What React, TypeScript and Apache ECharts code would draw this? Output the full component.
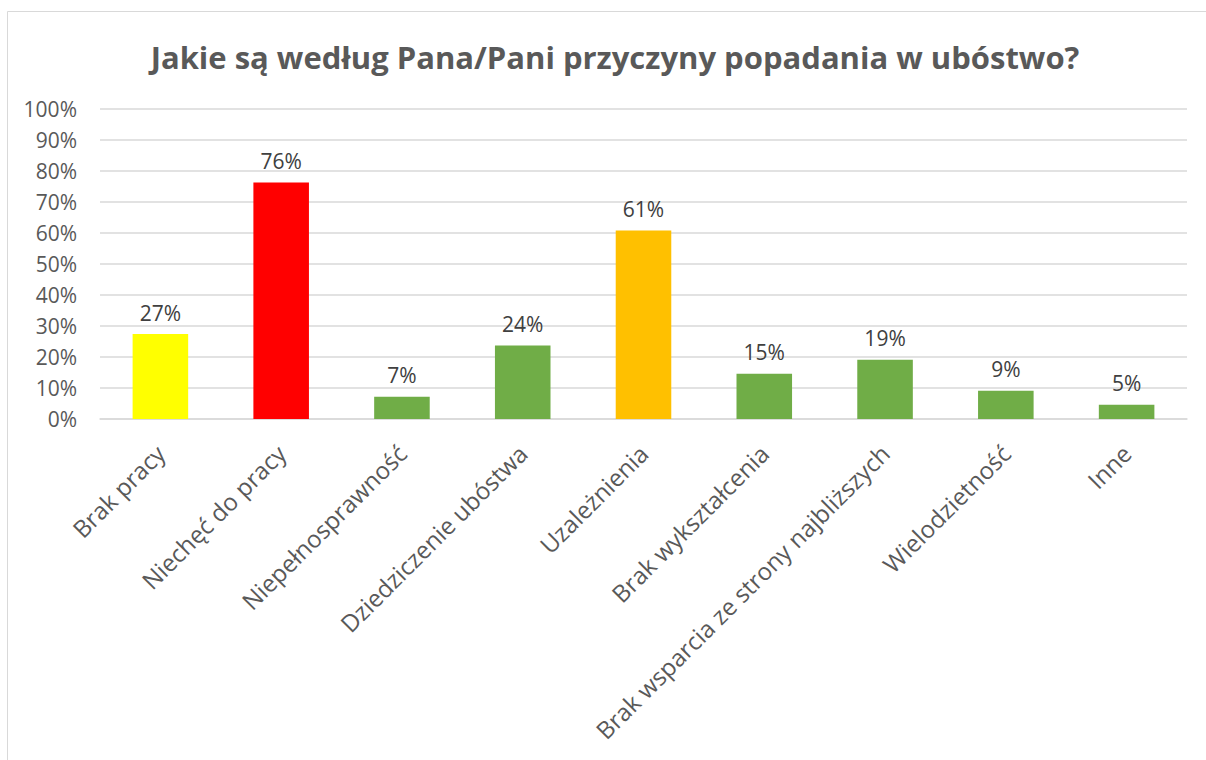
import React, { useEffect, useRef } from "react";
import * as echarts from "echarts";

const title = "Jakie są według Pana/Pani przyczyny popadania w ubóstwo?";
const categories = [
  "Brak pracy",
  "Niechęć do pracy",
  "Niepełnosprawność",
  "Dziedziczenie ubóstwa",
  "Uzależnienia",
  "Brak wykształcenia",
  "Brak wsparcia ze strony najbliższych",
  "Wielodzietność",
  "Inne",
];
const values = [27.4, 76.3, 7.2, 23.7, 60.8, 14.6, 19.1, 9.1, 4.6];
const barColors = ["#FFFF00", "#FF0000", "#70AD47", "#70AD47", "#FFC000", "#70AD47", "#70AD47", "#70AD47", "#70AD47"];
const yTicks = { min: 0, max: 100, interval: 10 };

const FONT = "'Open Sans', 'Noto Sans', sans-serif";

export default function App() {
  const ref = useRef<HTMLDivElement>(null);
  useEffect(() => {
    if (!ref.current) return;
    const chart = echarts.init(ref.current, undefined, { renderer: "svg" });
    chart.setOption({
      animation: false,
      backgroundColor: "#ffffff",
      title: {
        text: title,
        left: 610,
        textAlign: "center",
        top: 36,
        textStyle: { fontFamily: FONT, fontSize: 31, fontWeight: "bold", color: "#595959" },
      },
      graphic: [
        {
          type: "rect",
          shape: { x: 7.5, y: 11.5, width: 1400, height: 1000 },
          style: { fill: "none", stroke: "#d9d9d9", lineWidth: 1 },
          silent: true,
        },
      ],
      grid: { left: 100, right: 19, top: 109, bottom: 341, containLabel: false },
      xAxis: {
        type: "category",
        data: categories,
        axisLine: { show: true, lineStyle: { color: "#d9d9d9", width: 1.5 } },
        axisTick: { show: false },
        axisLabel: {
          rotate: 45,
          interval: 0,
          margin: 30,
          fontFamily: FONT,
          fontSize: 24,
          color: "#595959",
        },
      },
      yAxis: {
        type: "value",
        min: yTicks.min,
        max: yTicks.max,
        interval: yTicks.interval,
        axisLine: { show: false },
        axisTick: { show: false },
        splitLine: { lineStyle: { color: "#d9d9d9", width: 1.5 } },
        axisLabel: {
          formatter: (v: number) => `${v}%`,
          margin: 23,
          fontFamily: FONT,
          fontSize: 21,
          color: "#595959",
        },
      },
      series: [
        {
          type: "bar",
          barWidth: "46%",
          data: values.map((v, i) => ({ value: v, itemStyle: { color: barColors[i] } })),
          label: {
            show: true,
            position: "top",
            distance: 11,
            formatter: (p: any) => `${Math.round(p.value)}%`,
            fontFamily: FONT,
            fontSize: 21,
            color: "#404040",
          },
        },
      ],
    });
    return () => chart.dispose();
  }, []);
  return (
    <div
      ref={ref}
      style={{ position: "fixed", left: 0, top: 0, width: 1206, height: 760 }}
    />
  );
}
